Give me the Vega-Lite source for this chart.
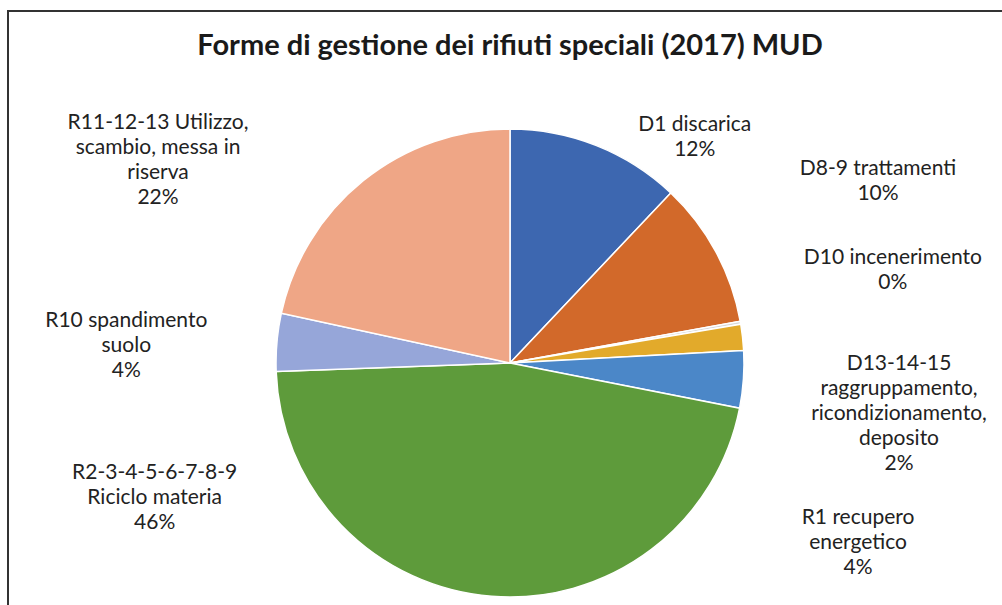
{
  "$schema": "https://vega.github.io/schema/vega-lite/v6.json",
  "width": 1004,
  "height": 704,
  "autosize": "none",
  "padding": {"left": 8, "top": 11, "right": 0, "bottom": 0},
  "background": "white",
  "view": {"stroke": "#333333", "strokeWidth": 2},
  "title": {
    "text": "Forme di gestione dei rifiuti speciali (2017) MUD",
    "anchor": "middle",
    "orient": "top",
    "offset": -73,
    "baseline": "alphabetic",
    "font": "Lato",
    "fontSize": 29,
    "fontWeight": "bold",
    "color": "#1a1a1a"
  },
  "data": {
    "values": [
      {"ord": 1, "cat": "D1", "value": 12.06, "label": "D1 discarica\n12%"},
      {"ord": 2, "cat": "D8-9", "value": 10.1, "label": "D8-9 trattamenti\n10%"},
      {"ord": 3, "cat": "D10", "value": 0.2, "label": "D10 incenerimento\n0%"},
      {"ord": 4, "cat": "D13-14-15", "value": 1.8, "label": "D13-14-15\nraggruppamento,\nricondizionamento,\ndeposito\n2%"},
      {"ord": 5, "cat": "R1", "value": 3.95, "label": "R1 recupero\nenergetico\n4%"},
      {"ord": 6, "cat": "R2-9", "value": 46.35, "label": "R2-3-4-5-6-7-8-9\nRiciclo materia\n46%"},
      {"ord": 7, "cat": "R10", "value": 4.0, "label": "R10 spandimento\nsuolo\n4%"},
      {"ord": 8, "cat": "R11-13", "value": 21.6, "label": "R11-12-13 Utilizzo,\nscambio, messa in\nriserva\n22%"}
    ]
  },
  "layer": [
    {
      "mark": {"type": "arc", "radius": 234, "stroke": "white", "strokeWidth": 1.5},
      "encoding": {
        "theta": {"field": "value", "type": "quantitative", "stack": true},
        "order": {"field": "ord", "type": "quantitative"},
        "color": {
          "field": "cat",
          "type": "nominal",
          "scale": {
            "domain": ["D1", "D8-9", "D10", "D13-14-15", "R1", "R2-9", "R10", "R11-13"],
            "range": ["#3D67B0", "#D2692A", "#D8D8D8", "#E2AA2B", "#4B87C8", "#5E9B3B", "#96A6D9", "#EFA686"]
          },
          "legend": null
        }
      }
    },
    {
      "transform": [{"filter": "datum.cat === 'D1'"}],
      "mark": {"type": "text", "theta": 0.6608, "radius": 301, "align": "center", "baseline": "middle", "lineBreak": "\n", "lineHeight": 25, "font": "Lato", "fontSize": 21, "color": "#222222"},
      "encoding": {"text": {"field": "label", "type": "nominal"}}
    },
    {
      "transform": [{"filter": "datum.cat === 'D8-9'"}],
      "mark": {"type": "text", "theta": 1.0856, "radius": 416, "align": "center", "baseline": "middle", "lineBreak": "\n", "lineHeight": 25, "font": "Lato", "fontSize": 21, "color": "#222222"},
      "encoding": {"text": {"field": "label", "type": "nominal"}}
    },
    {
      "transform": [{"filter": "datum.cat === 'D10'"}],
      "mark": {"type": "text", "theta": 1.3032, "radius": 397, "align": "center", "baseline": "middle", "lineBreak": "\n", "lineHeight": 25, "font": "Lato", "fontSize": 21, "color": "#222222"},
      "encoding": {"text": {"field": "label", "type": "nominal"}}
    },
    {
      "transform": [{"filter": "datum.cat === 'D13-14-15'"}],
      "mark": {"type": "text", "theta": 1.5734, "radius": 389, "align": "center", "baseline": "middle", "lineBreak": "\n", "lineHeight": 25, "font": "Lato", "fontSize": 21, "color": "#222222"},
      "encoding": {"text": {"field": "label", "type": "nominal"}}
    },
    {
      "transform": [{"filter": "datum.cat === 'R1'"}],
      "mark": {"type": "text", "theta": 1.9899, "radius": 381, "align": "center", "baseline": "middle", "lineBreak": "\n", "lineHeight": 25, "font": "Lato", "fontSize": 21, "color": "#222222"},
      "encoding": {"text": {"field": "label", "type": "nominal"}}
    },
    {
      "transform": [{"filter": "datum.cat === 'R2-9'"}],
      "mark": {"type": "text", "theta": 4.4118, "radius": 372, "align": "center", "baseline": "middle", "lineBreak": "\n", "lineHeight": 25, "font": "Lato", "fontSize": 21, "color": "#222222"},
      "encoding": {"text": {"field": "label", "type": "nominal"}}
    },
    {
      "transform": [{"filter": "datum.cat === 'R10'"}],
      "mark": {"type": "text", "theta": 4.8213, "radius": 386, "align": "center", "baseline": "middle", "lineBreak": "\n", "lineHeight": 25, "font": "Lato", "fontSize": 21, "color": "#222222"},
      "encoding": {"text": {"field": "label", "type": "nominal"}}
    },
    {
      "transform": [{"filter": "datum.cat === 'R11-13'"}],
      "mark": {"type": "text", "theta": 5.3108, "radius": 426, "align": "center", "baseline": "middle", "lineBreak": "\n", "lineHeight": 25, "font": "Lato", "fontSize": 21, "color": "#222222"},
      "encoding": {"text": {"field": "label", "type": "nominal"}}
    }
  ]
}
